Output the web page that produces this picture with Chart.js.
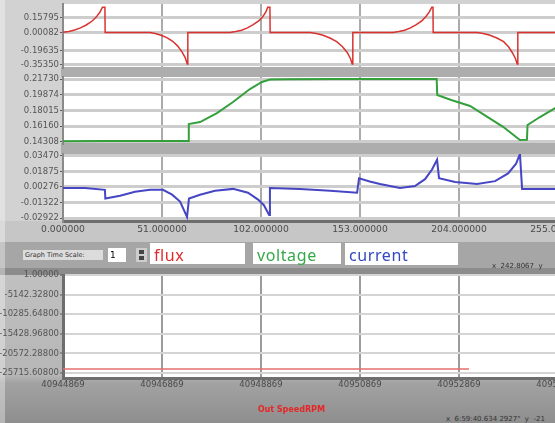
<!DOCTYPE html>
<html>
<head>
<meta charset="utf-8">
<script src="https://cdn.jsdelivr.net/npm/chart.js@4.4.1/dist/chart.umd.min.js"></script>
<style>
  html, body { margin: 0; padding: 0; }
  body { width: 555px; height: 423px; overflow: hidden; font-family: "DejaVu Sans", sans-serif; }
  #panel { position: relative; width: 555px; height: 423px; overflow: hidden; background: #d2d2d2; }
  #panel div, #panel canvas { position: absolute; }
  .band { left: 61px; width: 494px; background: #adadad; }
  .box { background: #fff; }
  .big { font-family: "Noto Sans", sans-serif; font-size: 16px; line-height: 24px; padding-left: 4px; letter-spacing: 0.6px; }
  .tiny { font-size: 7px; color: #333; white-space: nowrap; }
</style>
</head>
<body>
<div id="panel">
  <div style="left:0;top:221px;width:555px;height:21px;background:#c6c6c6"></div>
  <div style="left:0;top:242px;width:555px;height:26px;background:#a6a6a6"></div>
  <div style="left:0;top:268px;width:555px;height:7px;background:#8c8c8c"></div>
  <div style="left:0;top:275px;width:555px;height:148px;background:linear-gradient(#c0c0c0 0, #b6b6b6 100px, #a2a2a2 108px, #8e8e8e 148px)"></div>
  <div style="left:0;top:0;width:5px;height:423px;background:rgba(255,255,255,0.35)"></div>
  <div class="band" style="top:67px;height:10px"></div>
  <div class="band" style="top:143px;height:11px"></div>

  <canvas id="fluxChart" width="558" height="75" style="left:0;top:-2px"></canvas>
  <canvas id="voltChart" width="558" height="78" style="left:0;top:71px"></canvas>
  <canvas id="curChart" width="558" height="89" style="left:0;top:148px"></canvas>
  <canvas id="speedChart" width="558" height="123" style="left:0;top:269px"></canvas>

  <div class="tiny" style="left:23px;top:250px;width:78px;height:10px;line-height:10px;background:#dcdcdc;padding-left:2px;font-size:6.5px">Graph Time Scale:</div>
  <div class="box" style="left:108px;top:248px;width:16px;height:14px;font-size:9px;line-height:14px;padding-left:2px">1</div>
  <div style="left:136px;top:248px;width:11px;height:14px;background:#cdcdcd"></div>
  <div style="left:139px;top:250px;width:5px;height:4px;background:#444"></div>
  <div style="left:139px;top:256px;width:5px;height:4px;background:#444"></div>
  <div class="box big" style="left:150px;top:243px;width:91px;height:21px;color:#e32a2a">flux</div>
  <div class="box big" style="left:253px;top:243px;width:84px;height:21px;color:#36a849">voltage</div>
  <div class="box big" style="left:345px;top:243px;width:109px;height:22px;color:#3348c2">current</div>
  <div class="tiny" style="left:492px;top:262px">x&nbsp; 242.8067&nbsp; y</div>
  <div style="left:258px;top:405px;font-size:8px;font-weight:bold;color:#e02a2a;white-space:nowrap">Out SpeedRPM</div>
  <div class="tiny" style="left:446px;top:415px">x&nbsp; 6:59:40.634 2927"&nbsp; y&nbsp; -21</div>
</div>

<script>
// ===== Data =====
const timeTicks = [0, 51, 102, 153, 204, 255];

const fluxTicks = [0.15795, 0.00082, -0.19635, -0.35350];
const fluxTime = [0, 3, 6, 9, 12, 15, 17, 19, 20.3, 21.6, 21.7,
  44.8, 47.5, 50.5, 53.5, 56.5, 59, 61.3, 63, 64, 64.3,
  86, 89, 92, 95, 98, 101, 103, 104.5, 105.5, 106.6, 106.7,
  127.3, 130.5, 134, 137.5, 141, 144, 146.5, 148, 149, 149.3,
  170, 173, 176, 179, 182, 185, 187, 188.7, 190, 190.6, 190.7,
  213.3, 216.5, 220, 223.5, 227, 229.5, 231.5, 233, 234, 234.3,
  256];
const fluxValue = [0.004, 0.012, 0.028, 0.05, 0.082, 0.125, 0.165, 0.22, 0.275, 0.275, 0.001,
  0.001, -0.01, -0.03, -0.055, -0.095, -0.145, -0.21, -0.275, -0.343, 0.001,
  0.001, 0.01, 0.025, 0.05, 0.085, 0.13, 0.175, 0.225, 0.275, 0.275, 0.001,
  0.001, -0.01, -0.03, -0.06, -0.1, -0.155, -0.22, -0.28, -0.343, 0.001,
  0.001, 0.01, 0.025, 0.05, 0.085, 0.13, 0.175, 0.225, 0.275, 0.275, 0.001,
  0.001, -0.01, -0.03, -0.06, -0.1, -0.155, -0.22, -0.28, -0.343, 0.001,
  0.001];

const voltTicks = [0.21730, 0.19874, 0.18015, 0.16160, 0.14308];
const voltTime = [0, 20, 40, 64.5, 64.8, 70.6, 79.3, 87.6, 96.3, 102.5, 106.6, 115, 140, 170,
  192.5, 192.8, 200, 209.7, 218, 226.7, 235.4, 239, 239.3, 245.7, 253.5, 256];
const voltValue = [0.1441, 0.1443, 0.1442, 0.1444, 0.1643, 0.1666, 0.1772, 0.1902, 0.2055, 0.2138, 0.2166, 0.2171, 0.2174, 0.2174,
  0.2174, 0.1984, 0.1925, 0.1855, 0.1735, 0.1610, 0.1454, 0.1458, 0.1631, 0.1725, 0.1831, 0.1855];

const curTicks = [0.03470, 0.01875, 0.00276, -0.01322, -0.02922];
const curTime = [0, 11.3, 21.6, 21.8, 29.4, 37.1, 44.8, 51.5, 56.2, 60.3,
  63.9, 64.9, 70.6, 78.3, 87.6, 95.3, 100.5, 103.5, 106.2, 106.6, 122.1,
  137.6, 151.5, 152.5, 158, 163.3, 173.6, 181.3, 186.5, 190.1, 192.7,
  193.7, 202, 213.3, 222.6, 229.3, 233.4, 235.4, 236.5, 256];
const curValue = [0.0018, 0.0018, -0.0002, -0.0092, -0.0062, -0.0022, -0.0002, -0.0002, -0.0052, -0.0122,
  -0.0282, -0.0092, -0.0052, -0.0012, 0.0008, -0.0032, -0.0102, -0.016, -0.026, 0.0018, 0.0008,
  -0.0012, -0.0032, 0.0118, 0.0085, 0.0058, 0.0018, 0.0038, 0.0108, 0.0208, 0.0308,
  0.0118, 0.0078, 0.0058, 0.0088, 0.0168, 0.0268, 0.0368, 0.0008, 0.0008];

const speedXTicks = [40944869, 40946869, 40948869, 40950869, 40952869, 40954869];
const speedYTicks = [1, -5142.328, -10285.648, -15428.968, -20572.288, -25715.608];
const speedTime = [40944869, 40946869, 40948869, 40950869, 40952869, 40953070];
const speedValue = [-24660, -24660, -24660, -24660, -24660, -24660];

// ===== Helpers =====
Chart.defaults.font.family = 'DejaVu Sans';

const plotBg = {
  id: 'plotBg',
  beforeDraw(chart) {
    const a = chart.chartArea;
    const ctx = chart.ctx;
    ctx.save();
    ctx.fillStyle = '#ffffff';
    ctx.fillRect(a.left, a.top, a.right - a.left, a.bottom - a.top);
    ctx.restore();
  }
};

const toPoints = (xs, ys) => xs.map((x, i) => ({ x: x, y: ys[i] }));

function makeChart(id, o) {
  return new Chart(document.getElementById(id), {
    type: 'line',
    data: {
      datasets: [{
        data: toPoints(o.xs, o.ys),
        borderColor: o.color,
        borderWidth: o.lineWidth,
        pointRadius: 0,
        tension: 0
      }]
    },
    options: {
      responsive: false,
      animation: false,
      events: [],
      layout: { padding: { top: o.padTop, bottom: o.padBottom, left: 0, right: 0 } },
      plugins: { legend: { display: false }, tooltip: { enabled: false } },
      scales: {
        x: {
          type: 'linear',
          min: o.xMin,
          max: o.xMax,
          afterBuildTicks: s => { s.ticks = o.xTicks.map(v => ({ value: v })); },
          afterFit: s => { s.height = o.xHeight; s.paddingLeft = 0; s.paddingRight = 0; },
          grid: { color: o.vGrid, lineWidth: 2, drawTicks: false },
          border: { display: o.xBorder, color: '#6e6e6e', width: 3 },
          ticks: {
            display: o.xLabels,
            autoSkip: false,
            maxRotation: 0,
            padding: o.xPad,
            color: '#4a4a4a',
            font: { size: o.xFont },
            callback: o.xFmt
          }
        },
        y: {
          min: o.yMin,
          max: o.yMax,
          afterBuildTicks: s => { s.ticks = o.yTicks.map(v => ({ value: v })); },
          afterFit: s => { s.width = 63; s.paddingTop = 0; s.paddingBottom = 0; },
          grid: { color: o.hGrid, lineWidth: o.hGridWidth, tickLength: 3, tickColor: '#5a5a5a', tickWidth: 1 },
          border: { display: true, color: o.yBorder, width: o.yBorderWidth },
          ticks: {
            autoSkip: false,
            padding: 1,
            color: '#555555',
            font: { size: 8.5 },
            callback: o.yFmt
          }
        }
      }
    },
    plugins: [plotBg]
  });
}

const timeFmt = v => v.toFixed(6);
const fiveFmt = v => v.toFixed(5);

// ===== Flux =====
makeChart('fluxChart', {
  xs: fluxTime, ys: fluxValue, color: '#d9322f', lineWidth: 1.5,
  padTop: 6, padBottom: 6, xHeight: 0, xLabels: false, xBorder: false, xPad: 0, xFont: 9,
  xMin: 0, xMax: 255, xTicks: timeTicks, xFmt: timeFmt,
  yMin: -0.3753, yMax: 0.3103, yTicks: fluxTicks, yFmt: fiveFmt,
  vGrid: '#ababab', hGrid: '#cdcdcd', hGridWidth: 3, yBorder: '#8a8a8a', yBorderWidth: 2
});

// ===== Voltage =====
makeChart('voltChart', {
  xs: voltTime, ys: voltValue, color: '#34a03c', lineWidth: 2,
  padTop: 6, padBottom: 6, xHeight: 0, xLabels: false, xBorder: false, xPad: 0, xFont: 9,
  xMin: 0, xMax: 255, xTicks: timeTicks, xFmt: timeFmt,
  yMin: 0.1419, yMax: 0.21966, yTicks: voltTicks, yFmt: fiveFmt,
  vGrid: '#ababab', hGrid: '#cdcdcd', hGridWidth: 3, yBorder: '#8a8a8a', yBorderWidth: 2
});

// ===== Current =====
makeChart('curChart', {
  xs: curTime, ys: curValue, color: '#4646c4', lineWidth: 2,
  padTop: 6, padBottom: 0, xHeight: 16, xLabels: true, xBorder: true, xPad: 3, xFont: 9.2,
  xMin: 0, xMax: 255, xTicks: timeTicks, xFmt: timeFmt,
  yMin: -0.03231, yMax: 0.03676, yTicks: curTicks, yFmt: fiveFmt,
  vGrid: '#ababab', hGrid: '#cdcdcd', hGridWidth: 3, yBorder: '#8a8a8a', yBorderWidth: 2
});

// ===== Out Speed =====
makeChart('speedChart', {
  xs: speedTime, ys: speedValue, color: '#e46f6f', lineWidth: 1.5,
  padTop: 6, padBottom: 0, xHeight: 14, xLabels: true, xBorder: true, xPad: 2, xFont: 8.5,
  xMin: 40944869, xMax: 40954869, xTicks: speedXTicks, xFmt: v => String(v),
  yMin: -27027.6, yMax: 1, yTicks: speedYTicks, yFmt: fiveFmt,
  vGrid: '#9c9c9c', hGrid: '#d4d4d4', hGridWidth: 2, yBorder: '#6e6e6e', yBorderWidth: 3
});
</script>
</body>
</html>
